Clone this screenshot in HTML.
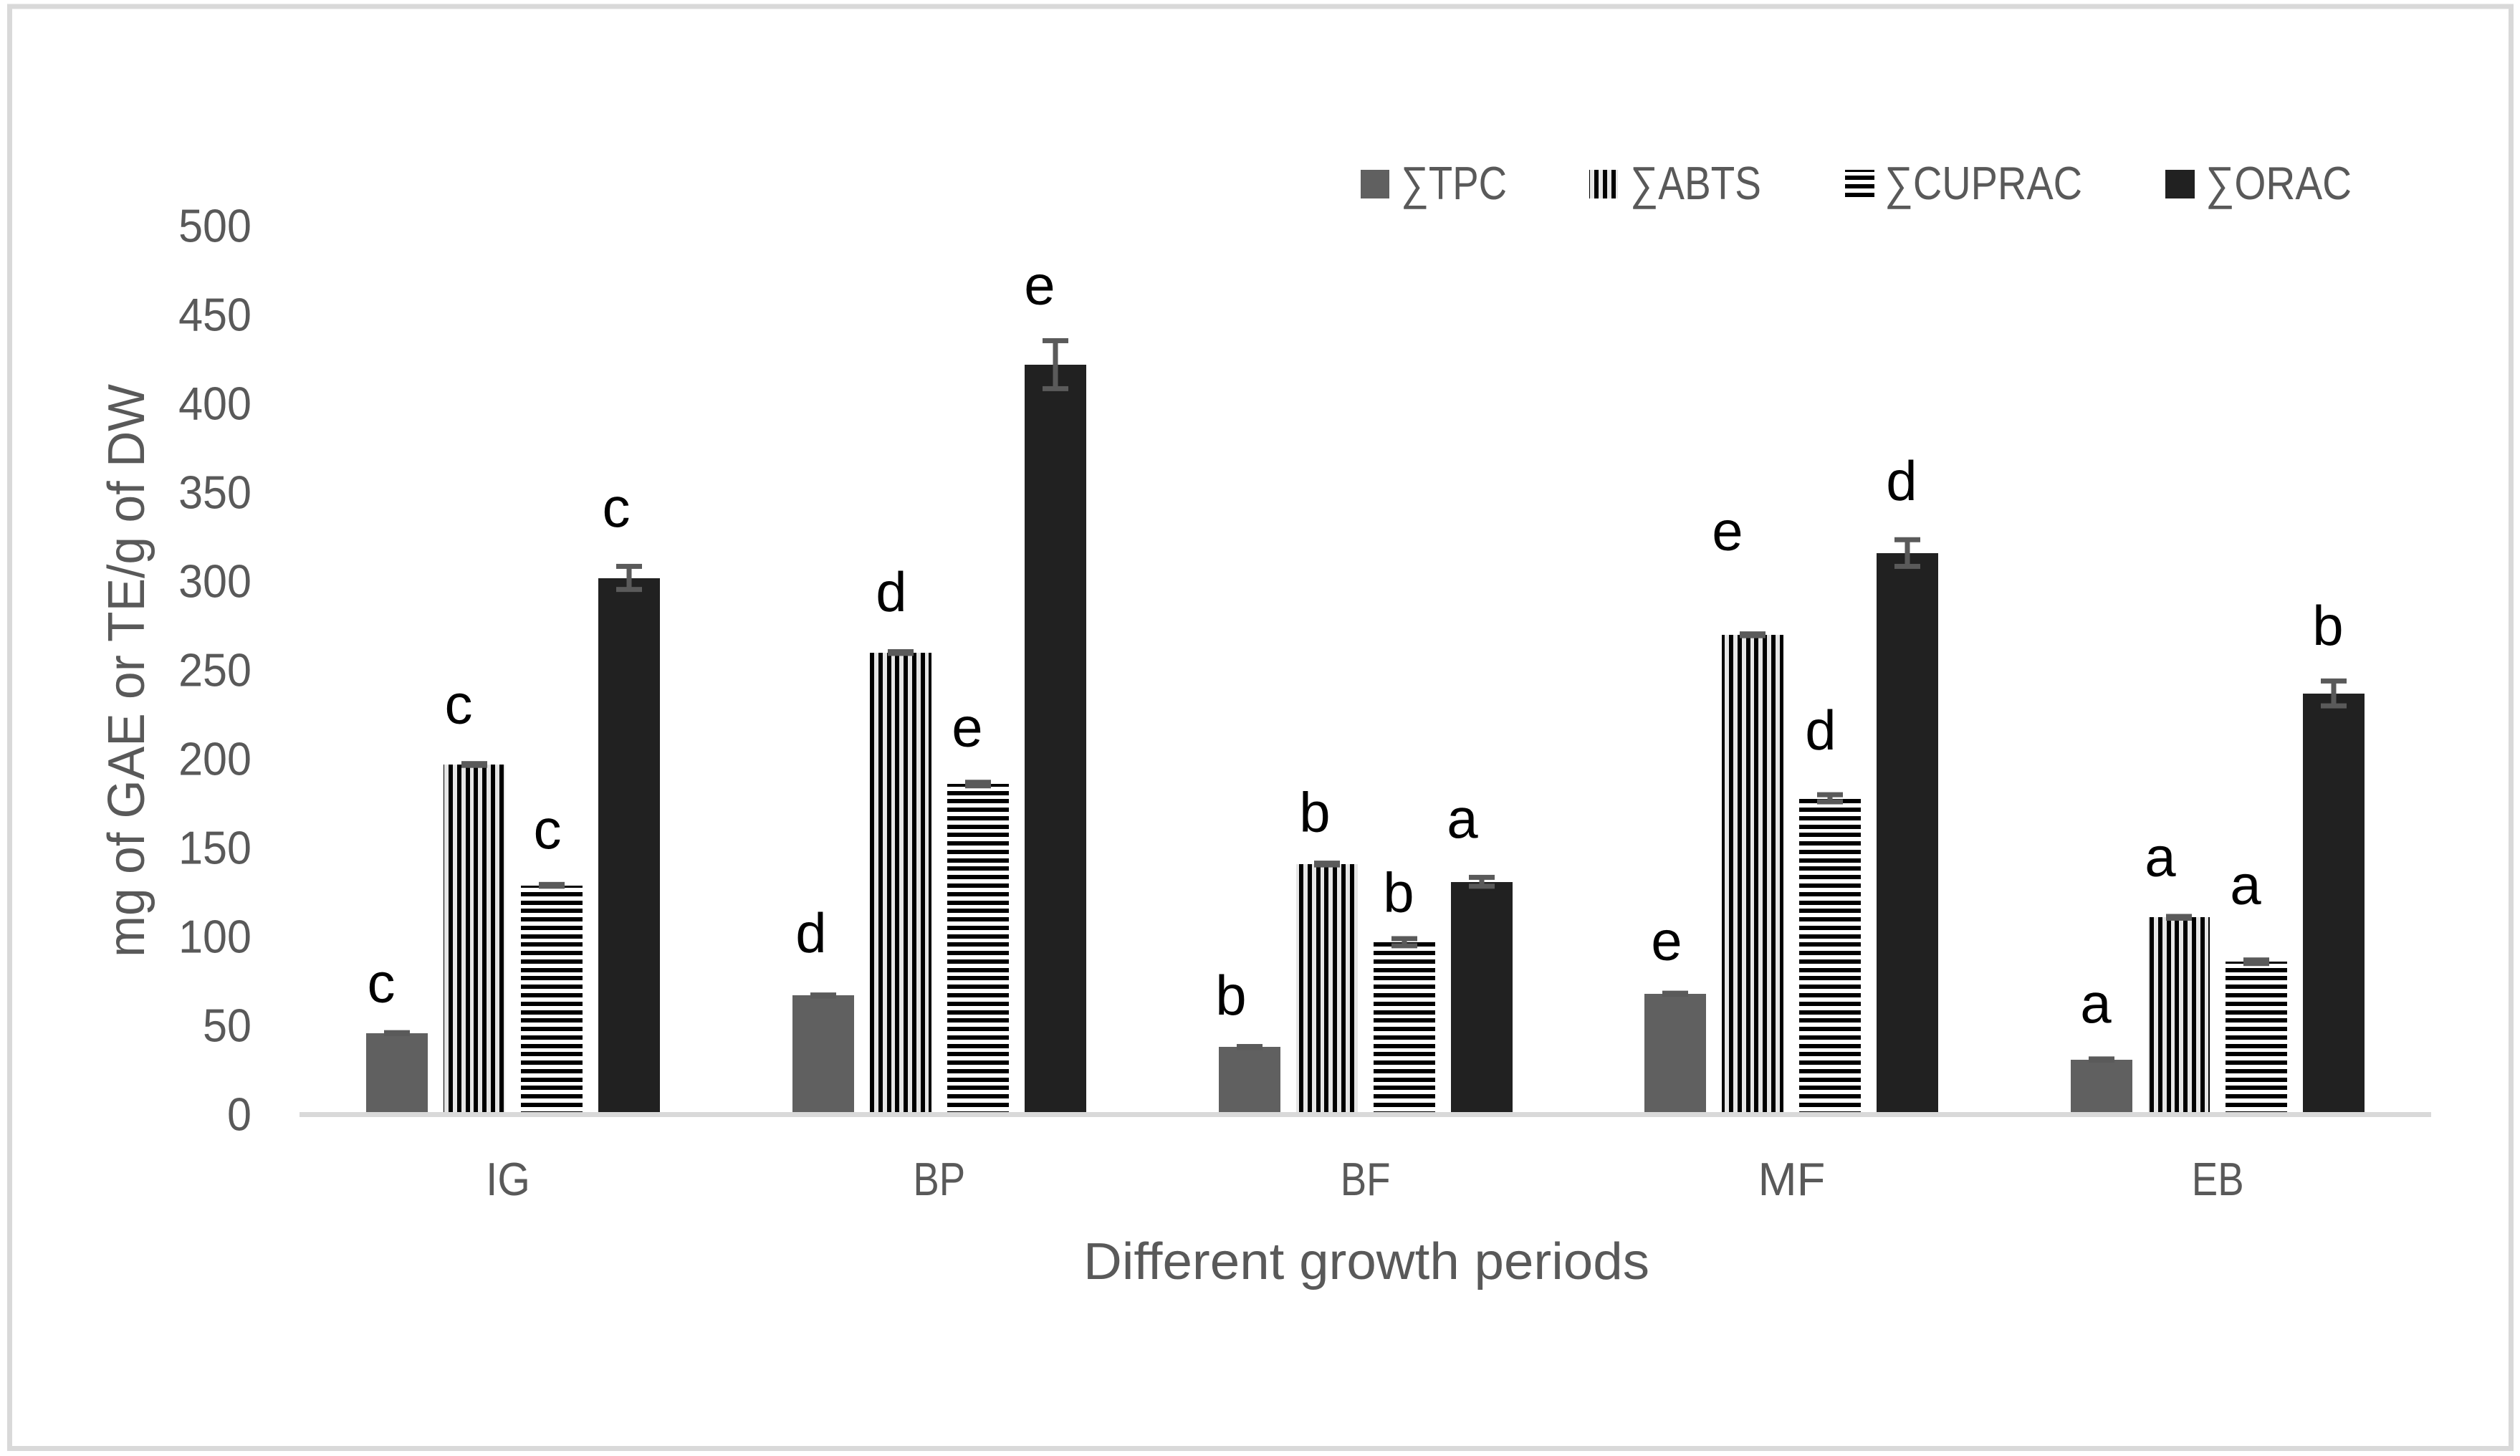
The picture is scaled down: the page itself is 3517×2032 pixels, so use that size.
<!DOCTYPE html>
<html lang="en">
<head>
<meta charset="utf-8">
<title>Antioxidant activity across growth periods</title>
<style>
html,body{margin:0;padding:0;background:#fff;width:3517px;height:2032px;overflow:hidden}
svg{display:block}
text{font-family:"Liberation Sans",sans-serif;fill:#595959}
</style>
</head>
<body>
<svg id="chart" xmlns="http://www.w3.org/2000/svg" width="3517" height="2032" viewBox="0 0 3517 2032">
  <rect x="0" y="0" width="3517" height="2032" fill="#ffffff"/>
  <rect x="13.5" y="9" width="3491" height="2012.5" fill="none" stroke="#d9d9d9" stroke-width="7"/>
  <g id="bars"></g>
  <rect x="418" y="1552" width="2975" height="7" fill="#d9d9d9"/>
  <g id="errors"></g>
  <g id="yticks"></g>
  <g id="xticks"></g>
  <g id="letters"></g>
  <text x="1512" y="1785" font-size="72" textLength="790" lengthAdjust="spacingAndGlyphs">Different growth periods</text>
  <text transform="translate(201,1336) rotate(-90)" x="0" y="0" font-size="72" textLength="800" lengthAdjust="spacingAndGlyphs">mg of GAE or TE/g of DW</text>
  <g>
    <g>
      <rect x="1899" y="237" width="40" height="40" fill="#606060"/>
      <text x="1955" y="278" font-size="65" textLength="148" lengthAdjust="spacingAndGlyphs">∑TPC</text>
    </g>
    <g>
      <rect x="2218" y="237" width="40" height="40" fill="#e6e6e6"/>
      <rect x="2218" y="237" width="1" height="40" fill="#000"/>
      <rect x="2225" y="237" width="6" height="40" fill="#000"/>
      <rect x="2237" y="237" width="6" height="40" fill="#000"/>
      <rect x="2249" y="237" width="6" height="40" fill="#000"/>
      <text x="2275" y="278" font-size="65" textLength="183" lengthAdjust="spacingAndGlyphs">∑ABTS</text>
    </g>
    <g>
      <rect x="2575" y="237" width="41" height="3" fill="#000"/>
      <rect x="2575" y="245" width="41" height="6" fill="#000"/>
      <rect x="2575" y="257" width="41" height="6" fill="#000"/>
      <rect x="2575" y="269" width="41" height="6" fill="#000"/>
      <text x="2630" y="278" font-size="65" textLength="276" lengthAdjust="spacingAndGlyphs">∑CUPRAC</text>
    </g>
    <g>
      <rect x="3022" y="237" width="41" height="40" fill="#212121"/>
      <text x="3078" y="278" font-size="65" textLength="204" lengthAdjust="spacingAndGlyphs">∑ORAC</text>
    </g>
  </g>
</svg>
<script>
// Data
const categories = ['IG', 'BP', 'BF', 'MF', 'EB'];
const seriesNames = ['tpc', 'abts', 'cuprac', 'orac'];
const tpcValues = [45.8, 67, 38, 68, 31];
const abtsValues = [197, 260, 141, 270, 111];
const cupracValues = [129, 186, 97, 178, 86];
const oracValues = [302, 422, 131, 316, 237];
const tpcErrors = [0.3, 0.3, 0.3, 0.3, 0.3];
const abtsErrors = [0.5, 0.5, 0.5, 0.5, 0.5];
const cupracErrors = [0.5, 1, 2, 2, 1];
const oracErrors = [6.5, 13.5, 2.5, 7.5, 7];
const tpcLetters = ['c', 'd', 'b', 'e', 'a'];
const abtsLetters = ['c', 'd', 'b', 'e', 'a'];
const cupracLetters = ['c', 'e', 'b', 'd', 'a'];
const oracLetters = ['c', 'e', 'a', 'd', 'b'];
const yTickLabels = [0, 50, 100, 150, 200, 250, 300, 350, 400, 450, 500];

// Layout (not data): hand-placed letter nudges, label squeeze and stripe phases of the source figure
const seriesValues = [tpcValues, abtsValues, cupracValues, oracValues];
const seriesErrors = [tpcErrors, abtsErrors, cupracErrors, oracErrors];
const seriesLetters = [tpcLetters, abtsLetters, cupracLetters, oracLetters];
const letterDx = [[-22,-22,-6,-18],[-17,-13,-15,-22],[-26,-17,-8,-27],[-12,-35,-13,-8],[-8,-26,-15,-8]];
const letterDy = [[-43.5,-57.5,-51.5,-71.4],[-60.5,-57.5,-52.7,-84.5],[-45.5,-45.5,-42.2,-61.4],[-47.5,-118.5,-68.2,-73.8],[-51.5,-57.5,-80.7,-67.9]];
const stripePhase = [7, 0, 4, 10, 2];
const xTickSqueeze = [0.9, 0.84, 0.84, 1, 0.84];
const xTickNudge = [-7, 0, 0, 0, 0];

// Axis functions
const NS = 'http://www.w3.org/2000/svg';
const Y_ZERO = 1555.5, PX_PER_UNIT = 2.48, BAR_BASE = 1552;
const GROUP_STEP = 594.8, FIRST_BAR = 511, BAR_STEP = 108, BAR_W = 86;
const STRIPE_PERIOD = 11.77;
function yScale(v) { return Y_ZERO - v * PX_PER_UNIT; }
function barLeft(g, s) { return Math.round(FIRST_BAR + g * GROUP_STEP + s * BAR_STEP); }
function groupCenter(g) { return FIRST_BAR + g * GROUP_STEP + (3 * BAR_STEP + BAR_W) / 2; }
function makeRect(x, y, w, h, fill) {
  const r = document.createElementNS(NS, 'rect');
  r.setAttribute('x', x);
  r.setAttribute('y', y);
  r.setAttribute('width', w);
  r.setAttribute('height', h);
  r.setAttribute('fill', fill);
  return r;
}

const barsG = document.getElementById('bars');
const errG = document.getElementById('errors');
const lettersG = document.getElementById('letters');
const yG = document.getElementById('yticks');
const xG = document.getElementById('xticks');

categories.forEach(function (cat, g) {
  seriesNames.forEach(function (name, s) {
    const value = seriesValues[s][g];
    const err = seriesErrors[s][g];
    const x = barLeft(g, s);
    const top = Math.round(yScale(value));
    const h = BAR_BASE - top;
    const fills = ['#606060', '#e6e6e6', '#ffffff', '#212121'];

    const bar = makeRect(x, top, BAR_W, h, fills[s]);
    
    
    barsG.appendChild(bar);

    if (s === 1) {
      // vertical stripes
      let k = -1;
      while (true) {
        const sx0 = x + stripePhase[g] + k * STRIPE_PERIOD;
        if (sx0 >= x + BAR_W) break;
        const a = Math.max(Math.round(sx0), x);
        const b = Math.min(Math.round(sx0 + 6), x + BAR_W);
        if (b > a) {
          const st = makeRect(a, top, b - a, h, '#000000');
          
          
          barsG.appendChild(st);
        }
        k++;
      }
    }
    if (s === 2) {
      // horizontal stripes anchored to the baseline
      let k = -1;
      while (true) {
        const sy0 = 1539 - k * STRIPE_PERIOD;
        if (sy0 + 6 <= top) break;
        const a = Math.max(Math.round(sy0), top);
        const b = Math.min(Math.round(sy0 + 6), BAR_BASE);
        if (b > a) {
          const st = makeRect(x, a, BAR_W, b - a, '#000000');
          
          
          barsG.appendChild(st);
        }
        k++;
      }
    }

    // error bar
    const cx = x + BAR_W / 2;
    const yHi = yScale(value + err);
    const yLo = yScale(value - err);
    const eb = document.createElementNS(NS, 'g');
    
    
    eb.appendChild(makeRect(cx - 3.5, yHi, 7, yLo - yHi, '#5a5a5a'));
    eb.appendChild(makeRect(cx - 18, yHi - 3.5, 36, 7, '#5a5a5a'));
    eb.appendChild(makeRect(cx - 18, yLo - 3.5, 36, 7, '#5a5a5a'));
    errG.appendChild(eb);

    // significance letter
    const t = document.createElementNS(NS, 'text');
    
    
    t.setAttribute('x', cx + letterDx[g][s]);
    t.setAttribute('y', yScale(value) + letterDy[g][s]);
    t.setAttribute('font-size', '78');
    t.setAttribute('text-anchor', 'middle');
    t.style.fill = '#000000';
    t.textContent = seriesLetters[s][g];
    lettersG.appendChild(t);
  });

  const xt = document.createElementNS(NS, 'text');
  
  
  xt.setAttribute('x', groupCenter(g) + xTickNudge[g]);
  xt.setAttribute('y', 1668);
  xt.setAttribute('font-size', '65');
  xt.setAttribute('text-anchor', 'middle');
  xt.textContent = cat;
  xG.appendChild(xt);
  xt.setAttribute('textLength', (xt.getComputedTextLength() * xTickSqueeze[g]).toFixed(1));
  xt.setAttribute('lengthAdjust', 'spacingAndGlyphs');
});

yTickLabels.forEach(function (v) {
  const t = document.createElementNS(NS, 'text');
  
  
  t.setAttribute('x', 351);
  t.setAttribute('y', yScale(v) + 22);
  t.setAttribute('font-size', '65');
  t.setAttribute('text-anchor', 'end');
  t.textContent = String(v);
  yG.appendChild(t);
  t.setAttribute('textLength', (t.getComputedTextLength() * 0.94).toFixed(1));
  t.setAttribute('lengthAdjust', 'spacingAndGlyphs');
});
</script>
</body>
</html>
